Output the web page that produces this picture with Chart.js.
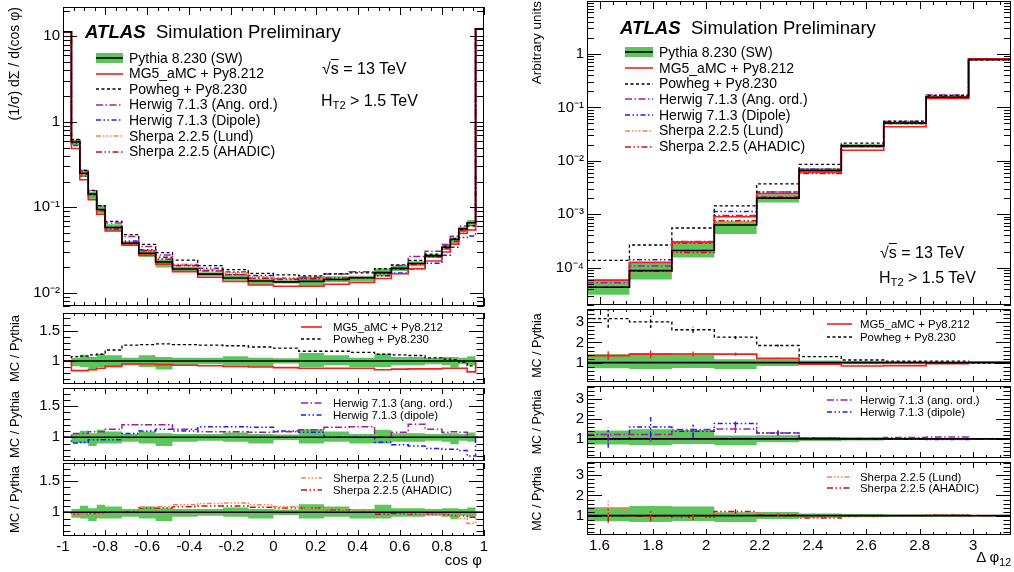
<!DOCTYPE html>
<html>
<head>
<meta charset="utf-8">
<script src="https://cdn.jsdelivr.net/npm/chart.js@4.4.1/dist/chart.umd.min.js"></script>
<style>
  html, body { margin: 0; padding: 0; background: #fff; }
  body { position: relative; width: 1014px; height: 572px; overflow: hidden;
         font-family: "Liberation Sans", Arial, Helvetica, sans-serif; color: #000; }
  canvas, .lbl, svg { position: absolute; }
  .lbl { white-space: nowrap; }
  .atlas { font-weight: bold; font-style: italic; }
</style>
</head>
<body>
<script>
// ---- cos(phi) : bin edges, Pythia 8.230 (SW) reference, MC / Pythia ratios
const cosEdges = [-1, -0.96, -0.92, -0.88, -0.84, -0.8, -0.72, -0.64, -0.56, -0.48, -0.36, -0.24, -0.12,
                  0, 0.12, 0.24, 0.36, 0.48, 0.56, 0.64, 0.72, 0.8, 0.84, 0.88, 0.92, 0.96, 1];
const cosPythia = [11.3, 0.58, 0.25, 0.143, 0.094, 0.058, 0.038, 0.029, 0.023, 0.019, 0.0165, 0.0149, 0.0137,
                   0.0134, 0.0136, 0.0143, 0.015, 0.0172, 0.0193, 0.022, 0.027, 0.034, 0.042, 0.056, 0.066, 12.2];
const cosPythiaUp = [0.01, 0.054, 0.103, 0.065, 0.12, 0.092, 0.054, 0.092, 0.065, 0.054, 0.054, 0.076, 0.054,
                     0.043, 0.13, 0.092, 0.054, 0.12, 0.065, 0.065, 0.054, 0.065, 0.065, 0.054, 0.076, 0.01];
const cosPythiaDn = [0.01, 0.087, 0.098, 0.141, 0.1, 0.098, 0.07, 0.098, 0.141, 0.07, 0.054, 0.07, 0.098,
                     0.043, 0.098, 0.07, 0.098, 0.098, 0.07, 0.07, 0.054, 0.07, 0.11, 0.054, 0.07, 0.01];
const cosMG5 = [1.0, 0.84, 0.84, 0.855, 0.88, 0.91, 0.95, 0.95, 0.94, 0.93, 0.92, 0.91, 0.9,
                0.89, 0.88, 0.88, 0.88, 0.855, 0.865, 0.87, 0.87, 0.88, 0.88, 0.88, 0.82, 1.0];
const cosPowheg = [1.0, 1.07, 1.08, 1.1, 1.11, 1.18, 1.26, 1.27, 1.28, 1.27, 1.26, 1.25, 1.23,
                   1.21, 1.16, 1.16, 1.14, 1.11, 1.1, 1.09, 1.05, 1.03, 1.02, 0.98, 0.92, 1.0];
const cosHerwigAng = [1.0, 1.06, 1.06, 1.09, 1.09, 1.13, 1.2, 1.2, 1.2, 1.13, 1.09, 1.09, 1.08,
                      1.09, 1.12, 1.16, 1.17, 1.0, 1.08, 1.21, 1.13, 1.08, 1.09, 1.08, 1.0, 1.0];
const cosHerwigDip = [1.0, 0.91, 0.92, 0.96, 0.96, 0.96, 1.06, 1.1, 1.13, 1.1, 1.17, 1.17, 1.16,
                      1.1, 1.08, 1.0, 1.0, 0.92, 0.88, 0.86, 0.82, 0.81, 0.81, 0.79, 0.7, 1.0];
const cosSherpaLund = [1.0, 0.97, 0.97, 0.98, 0.97, 1.0, 1.0, 1.08, 1.09, 1.12, 1.14, 1.15, 1.12,
                       1.09, 1.07, 1.05, 1.02, 1.0, 1.0, 0.98, 0.97, 0.95, 0.95, 0.9, 0.82, 1.0];
const cosSherpaAhadic = [1.0, 0.97, 0.97, 0.98, 0.98, 1.0, 1.01, 1.07, 1.07, 1.09, 1.1, 1.1, 1.08,
                         1.07, 1.07, 1.04, 1.0, 0.97, 0.98, 0.97, 0.97, 0.96, 0.95, 0.94, 0.92, 1.0];

// ---- delta phi_12
const dphiEdges = [1.553, 1.712, 1.871, 2.030, 2.189, 2.348, 2.506, 2.665, 2.824, 2.983, 3.142];
const dphiPythia = [4.3e-5, 8.8e-5, 2.1e-4, 6.3e-4, 2.0e-3, 6.6e-3, 0.019, 0.051, 0.155, 0.79];
const dphiPythiaUp = [0.42, 0.48, 0.45, 0.17, 0.18, 0.1, 0.08, 0.06, 0.05, 0.03];
const dphiPythiaDn = [0.28, 0.32, 0.26, 0.32, 0.17, 0.1, 0.08, 0.06, 0.05, 0.03];
const dphiMG5 = [1.35, 1.42, 1.43, 1.42, 1.22, 0.92, 0.83, 0.85, 0.95, 1.03];
const dphiPowheg = [3.18, 3.02, 2.63, 2.27, 1.85, 1.3, 1.13, 1.08, 1.08, 0.98];
const dphiHerwigAng = [1.22, 1.22, 1.47, 1.5, 1.3, 1.05, 1.02, 1.07, 1.1, 1.0];
const dphiHerwigDip = [1.0, 1.6, 1.38, 1.78, 1.3, 1.05, 1.0, 0.98, 0.97, 1.0];
const dphiSherpaLund = [1.37, 0.95, 0.92, 1.12, 1.03, 0.95, 0.97, 1.0, 1.03, 1.0];
const dphiSherpaAhadic = [1.0, 0.97, 0.92, 1.2, 1.05, 0.88, 0.97, 1.0, 1.03, 1.0];
const dphiErrMG5 = [0.22, 0.18, 0.12, 0.08, 0.04, 0, 0, 0, 0, 0];
const dphiErrPowheg = [0.45, 0.3, 0.15, 0.1, 0.05, 0, 0, 0, 0, 0];
const dphiErrHerwigAng = [0.35, 0.35, 0.3, 0.2, 0.15, 0, 0, 0, 0, 0];
const dphiErrHerwigDip = [0.45, 0.5, 0.35, 0.15, 0.1, 0, 0, 0, 0, 0];
const dphiErrSherpaLund = [0.4, 0.2, 0.15, 0.1, 0.05, 0, 0, 0, 0, 0];
const dphiErrSherpaAhadic = [0.35, 0.25, 0.15, 0.12, 0.05, 0, 0, 0, 0, 0];

// ---- ticks and labels
const cosTicks = [-1, -0.8, -0.6, -0.4, -0.2, 0, 0.2, 0.4, 0.6, 0.8, 1];
const cosTickLabels = ['-1', '-0.8', '-0.6', '-0.4', '-0.2', '0', '0.2', '0.4', '0.6', '0.8', '1'];
const dphiTicks = [1.6, 1.8, 2, 2.2, 2.4, 2.6, 2.8, 3];
const dphiTickLabels = ['1.6', '1.8', '2', '2.2', '2.4', '2.6', '2.8', '3'];
const cosMainTicks = [0.01, 0.1, 1, 10];
const cosMainTickLabels = ['10\u207B\u00B2', '10\u207B\u00B9', '1', '10'];
const dphiMainTicks = [1e-4, 1e-3, 1e-2, 0.1, 1];
const dphiMainTickLabels = ['10\u207B\u2074', '10\u207B\u00B3', '10\u207B\u00B2', '10\u207B\u00B9', '1'];
const cosRatioTicks = [1, 1.5];
const cosRatioTickLabels = ['1', '1.5'];
const dphiRatioTicks = [1, 2, 3];
const dphiRatioTickLabels = ['1', '2', '3'];

const mainLegend = ['Pythia 8.230 (SW)', 'MG5_aMC + Py8.212', 'Powheg + Py8.230', 'Herwig 7.1.3 (Ang. ord.)',
                    'Herwig 7.1.3 (Dipole)', 'Sherpa 2.2.5 (Lund)', 'Sherpa 2.2.5 (AHADIC)'];
const ratioLegend = ['MG5_aMC + Py8.212', 'Powheg + Py8.230', 'Herwig 7.1.3 (ang. ord.)',
                     'Herwig 7.1.3 (dipole)', 'Sherpa 2.2.5 (Lund)', 'Sherpa 2.2.5 (AHADIC)'];

const GREEN = '#5cc65c';
const STY = {
  pythia: {color: '#000000', dash: [], w: 1.6},
  mg5:    {color: '#ff1a1a', dash: [], w: 1.6},
  powheg: {color: '#000000', dash: [3, 2.5], w: 1.3},
  herAng: {color: '#a01fa0', dash: [7, 2.5, 1.5, 2.5], w: 1.5},
  herDip: {color: '#1a1aff', dash: [5, 2.5, 1.5, 2.5, 1.5, 2.5], w: 1.5},
  lund:   {color: '#ff8040', dash: [5, 2, 1.5, 2, 1.5, 2, 1.5, 2], w: 1.5},
  ahadic: {color: '#c81010', dash: [6, 2.5, 1.5, 2.5, 1.5, 2.5], w: 1.5}
};
const legendKeys = ['pythia', 'mg5', 'powheg', 'herAng', 'herDip', 'lund', 'ahadic'];

Chart.defaults.font.family = '"Liberation Sans", Arial, Helvetica, sans-serif';
Chart.defaults.color = '#000';

// one point per lower bin edge + closing point; drawn with horizontal-first steps
function hist(edges, vals) {
  const p = vals.map((v, i) => ({x: edges[i], y: v}));
  p.push({x: edges[edges.length - 1], y: vals[vals.length - 1]});
  return p;
}
function times(base, ratio) { return base.map((b, i) => b * ratio[i]); }

function histLine(edges, vals, key, order) {
  const s = STY[key];
  return {data: hist(edges, vals), borderColor: s.color, borderDash: s.dash, borderWidth: s.w,
          stepped: 'before', pointRadius: 0, fill: false, order: order};
}
function band(edges, lo, hi) {
  return [
    {data: hist(edges, lo), borderWidth: 0, borderColor: 'rgba(0,0,0,0)', pointRadius: 0,
     stepped: 'before', fill: false, order: 20},
    {data: hist(edges, hi), borderWidth: 0, borderColor: 'rgba(0,0,0,0)', backgroundColor: GREEN,
     pointRadius: 0, stepped: 'before', fill: '-1', order: 20}
  ];
}

function steps(min, max, step) {
  const out = [];
  for (let k = Math.ceil(min / step - 1e-9); k * step <= max + 1e-9; k++) out.push(+(k * step).toFixed(6));
  return out;
}
function onGrid(v, step) { const r = v / step; return Math.abs(r - Math.round(r)) < 1e-6; }
function logSteps(min, max) {
  const out = [];
  for (let e = Math.floor(Math.log10(min)); e <= Math.ceil(Math.log10(max)); e++) {
    for (let m = 1; m <= 9; m++) {
      const v = m * Math.pow(10, e);
      if (v >= min && v <= max) out.push({v: v, major: m === 1});
    }
  }
  return out;
}
function noPad(s) { s.paddingTop = 0; s.paddingBottom = 0; s.paddingLeft = 0; s.paddingRight = 0; }

// ROOT style frame with inward ticks on all four sides, plus vertical error bars
const rootAxes = {
  id: 'rootAxes',
  afterDatasetsDraw(chart) {
    const cfg = chart.canvas.rootCfg;
    const {ctx, chartArea: a} = chart;
    const x = chart.scales.x, y = chart.scales.y;

    ctx.save();
    ctx.beginPath(); ctx.rect(a.left, a.top, a.width, a.height); ctx.clip();
    (cfg.errs || []).forEach(eb => {
      const s = STY[eb.key];
      ctx.strokeStyle = s.color; ctx.lineWidth = 1.4; ctx.setLineDash(s.dash);
      ctx.beginPath();
      eb.vals.forEach((v, i) => {
        if (!eb.errs[i]) return;
        const px = x.getPixelForValue((eb.edges[i] + eb.edges[i + 1]) / 2);
        ctx.moveTo(px, y.getPixelForValue(v - eb.errs[i]));
        ctx.lineTo(px, y.getPixelForValue(v + eb.errs[i]));
      });
      ctx.stroke();
    });
    ctx.restore();

    ctx.save();
    ctx.strokeStyle = '#000'; ctx.lineWidth = 1; ctx.setLineDash([]);
    ctx.beginPath();
    for (const t of steps(x.min, x.max, cfg.xMinor)) {
      const px = Math.round(x.getPixelForValue(t)) + 0.5;
      const len = onGrid(t, cfg.xMajor) ? cfg.xLen : cfg.xLen / 2;
      ctx.moveTo(px, a.bottom); ctx.lineTo(px, a.bottom - len);
      ctx.moveTo(px, a.top); ctx.lineTo(px, a.top + len);
    }
    const yt = cfg.yLog ? logSteps(y.min, y.max)
      : steps(y.min, y.max, cfg.yMinor).map(v => ({v: v, major: onGrid(v, cfg.yMajor)}));
    for (const t of yt) {
      const py = Math.round(y.getPixelForValue(t.v)) + 0.5;
      const len = t.major ? cfg.yLen : cfg.yLen / 2;
      ctx.moveTo(a.left, py); ctx.lineTo(a.left + len, py);
      ctx.moveTo(a.right, py); ctx.lineTo(a.right - len, py);
    }
    ctx.stroke();
    ctx.strokeRect(Math.round(a.left) + 0.5, Math.round(a.top) + 0.5,
                   Math.round(a.width) - 1, Math.round(a.height) - 1);
    ctx.restore();
  }
};

function makePanel(p) {
  const c = document.createElement('canvas');
  c.width = p.cw; c.height = p.ch;
  c.style.left = p.cx + 'px'; c.style.top = p.cy + 'px';
  c.style.width = p.cw + 'px'; c.style.height = p.ch + 'px';
  c.rootCfg = p.frame;
  document.body.appendChild(c);
  const axW = p.area[0] - p.cx;
  const padTop = p.area[1] - p.cy;
  const padRight = p.cx + p.cw - p.area[2];
  const axH = p.cy + p.ch - p.area[3];
  return new Chart(c, {
    type: 'line',
    data: {datasets: p.datasets},
    options: {
      responsive: false, animation: false, devicePixelRatio: 1,
      layout: {padding: {top: padTop, right: padRight, left: 0, bottom: p.xLabels ? 0 : axH}},
      plugins: {legend: {display: false}, tooltip: {enabled: false}},
      scales: {
        x: {
          type: 'linear', min: p.xMin, max: p.xMax, bounds: 'data', display: !!p.xLabels,
          grid: {display: false, drawTicks: false}, border: {display: false},
          ticks: {font: {size: 15}, color: '#000', padding: 2, maxRotation: 0, autoSkip: false,
                  callback: (v, i) => p.xLabels ? p.xLabels[i] : ''},
          afterBuildTicks: s => { s.ticks = p.xTicks.map(v => ({value: v})); },
          afterFit: s => { s.height = p.xLabels ? axH : 0; noPad(s); }
        },
        y: {
          type: p.yLog ? 'logarithmic' : 'linear', min: p.yMin, max: p.yMax, bounds: 'data',
          grid: {display: false, drawTicks: false}, border: {display: false},
          ticks: {font: {size: 15}, color: '#000', padding: 3, autoSkip: false,
                  callback: (v, i) => p.yLabels[i]},
          afterBuildTicks: s => { s.ticks = p.yTicks.map(v => ({value: v})); },
          afterFit: s => { s.width = axW; noPad(s); },
          title: {display: true, text: p.yTitle, align: p.yTitleAlign, color: '#000',
                  font: {size: p.yTitleSize}, padding: {top: p.yTitlePad, bottom: 0}}
        }
      }
    },
    plugins: [rootAxes]
  });
}

// ---------------- left: cos(phi)
const cosOnes = cosEdges.slice(1).map(() => 1);
const cosFrameMain = {xMajor: 0.2, xMinor: 0.05, xLen: 8, yLog: true, yLen: 14};
const cosFrameRatio = {xMajor: 0.2, xMinor: 0.05, xLen: 6, yMajor: 0.5, yMinor: 0.1, yLen: 15};
const cosRatioBand = band(cosEdges, cosPythiaDn.map(d => 1 - d), cosPythiaUp.map(u => 1 + u));
const leftCommon = {cx: 0, cw: 500, xMin: -1, xMax: 1, xTicks: cosTicks};

makePanel(Object.assign({}, leftCommon, {
  cy: 0, ch: 308, area: [63, 7, 484, 306], frame: cosFrameMain,
  yLog: true, yMin: 0.007, yMax: 22, yTicks: cosMainTicks, yLabels: cosMainTickLabels,
  yTitle: '(1/\u03C3) d\u03A3 / d(cos \u03C6)', yTitleAlign: 'end', yTitleSize: 14, yTitlePad: 6.6,
  datasets: [
    ...band(cosEdges, times(cosPythia, cosPythiaDn.map(d => 1 - d)), times(cosPythia, cosPythiaUp.map(u => 1 + u))),
    histLine(cosEdges, times(cosPythia, cosHerwigDip), 'herDip', 7),
    histLine(cosEdges, times(cosPythia, cosHerwigAng), 'herAng', 6),
    histLine(cosEdges, times(cosPythia, cosSherpaLund), 'lund', 5),
    histLine(cosEdges, times(cosPythia, cosSherpaAhadic), 'ahadic', 4),
    histLine(cosEdges, times(cosPythia, cosPowheg), 'powheg', 3),
    histLine(cosEdges, times(cosPythia, cosMG5), 'mg5', 2),
    histLine(cosEdges, cosPythia, 'pythia', 1)
  ]
}));

const cosRatioPanels = [
  {cy: 309, ch: 77, area: [63, 313, 484, 384], a: ['mg5', cosMG5], b: ['powheg', cosPowheg]},
  {cy: 386, ch: 76, area: [63, 388, 484, 461], a: ['herAng', cosHerwigAng], b: ['herDip', cosHerwigDip]},
  {cy: 462, ch: 110, area: [63, 463, 484, 536], a: ['lund', cosSherpaLund], b: ['ahadic', cosSherpaAhadic], last: true}
];
cosRatioPanels.forEach(r => {
  makePanel(Object.assign({}, leftCommon, {
    cy: r.cy, ch: r.ch, area: r.area, frame: cosFrameRatio, xLabels: r.last ? cosTickLabels : null,
    yLog: false, yMin: 0.62, yMax: 1.79, yTicks: cosRatioTicks, yLabels: cosRatioTickLabels,
    yTitle: 'MC / Pythia', yTitleAlign: 'center', yTitleSize: 13, yTitlePad: 7.2,
    datasets: [
      ...cosRatioBand,
      histLine(cosEdges, r.b[1], r.b[0], 3),
      histLine(cosEdges, r.a[1], r.a[0], 2),
      histLine(cosEdges, cosOnes, 'pythia', 1)
    ]
  }));
});

// ---------------- right: delta phi_12
const dphiOnes = dphiEdges.slice(1).map(() => 1);
const dphiFrameMain = {xMajor: 0.2, xMinor: 0.05, xLen: 8, yLog: true, yLen: 14};
const dphiRatioBand = band(dphiEdges, dphiPythiaDn.map(d => 1 - d), dphiPythiaUp.map(u => 1 + u));
const rightCommon = {cx: 515, cw: 499, xMin: 1.553, xMax: 3.142, xTicks: dphiTicks};

makePanel(Object.assign({}, rightCommon, {
  cy: 0, ch: 307, area: [587, 1, 1011, 305], frame: dphiFrameMain,
  yLog: true, yMin: 2e-5, yMax: 9.8, yTicks: dphiMainTicks, yLabels: dphiMainTickLabels,
  yTitle: 'Arbitrary units', yTitleAlign: 'end', yTitleSize: 13.5, yTitlePad: 13.9,
  datasets: [
    ...band(dphiEdges, times(dphiPythia, dphiPythiaDn.map(d => 1 - d)), times(dphiPythia, dphiPythiaUp.map(u => 1 + u))),
    histLine(dphiEdges, times(dphiPythia, dphiHerwigDip), 'herDip', 7),
    histLine(dphiEdges, times(dphiPythia, dphiHerwigAng), 'herAng', 6),
    histLine(dphiEdges, times(dphiPythia, dphiSherpaLund), 'lund', 5),
    histLine(dphiEdges, times(dphiPythia, dphiSherpaAhadic), 'ahadic', 4),
    histLine(dphiEdges, times(dphiPythia, dphiPowheg), 'powheg', 3),
    histLine(dphiEdges, times(dphiPythia, dphiMG5), 'mg5', 2),
    histLine(dphiEdges, dphiPythia, 'pythia', 1)
  ]
}));

const dphiRatioPanels = [
  {cy: 307, ch: 77, area: [587, 309, 1011, 382],
   a: ['mg5', dphiMG5, dphiErrMG5], b: ['powheg', dphiPowheg, dphiErrPowheg]},
  {cy: 384, ch: 76, area: [587, 386, 1011, 458],
   a: ['herAng', dphiHerwigAng, dphiErrHerwigAng], b: ['herDip', dphiHerwigDip, dphiErrHerwigDip]},
  {cy: 460, ch: 112, area: [587, 462, 1011, 535],
   a: ['lund', dphiSherpaLund, dphiErrSherpaLund], b: ['ahadic', dphiSherpaAhadic, dphiErrSherpaAhadic], last: true}
];
dphiRatioPanels.forEach(r => {
  const frame = {xMajor: 0.2, xMinor: 0.05, xLen: 6, yMajor: 1, yMinor: 0.2, yLen: 15,
    errs: [{key: r.a[0], edges: dphiEdges, vals: r.a[1], errs: r.a[2]},
           {key: r.b[0], edges: dphiEdges, vals: r.b[1], errs: r.b[2]}]};
  makePanel(Object.assign({}, rightCommon, {
    cy: r.cy, ch: r.ch, area: r.area, frame: frame, xLabels: r.last ? dphiTickLabels : null,
    yLog: false, yMin: 0.04, yMax: 3.66, yTicks: dphiRatioTicks, yLabels: dphiRatioTickLabels,
    yTitle: 'MC / Pythia', yTitleAlign: 'center', yTitleSize: 12.5, yTitlePad: 15.5,
    datasets: [
      ...dphiRatioBand,
      histLine(dphiEdges, r.b[1], r.b[0], 3),
      histLine(dphiEdges, r.a[1], r.a[0], 2),
      histLine(dphiEdges, dphiOnes, 'pythia', 1)
    ]
  }));
});

// ---------------- text, legends
function addLabel(html, x, yc, size, right) {
  const d = document.createElement('div');
  d.className = 'lbl';
  d.innerHTML = html;
  const lh = Math.round(size * 1.2);
  d.style.fontSize = size + 'px';
  d.style.lineHeight = lh + 'px';
  d.style.top = (yc - lh / 2) + 'px';
  if (right) d.style.right = (1014 - x) + 'px'; else d.style.left = x + 'px';
  document.body.appendChild(d);
}
function addSample(key, x, yc, w, h) {
  const ns = 'http://www.w3.org/2000/svg';
  const s = STY[key];
  const svg = document.createElementNS(ns, 'svg');
  svg.setAttribute('width', w); svg.setAttribute('height', h);
  svg.style.left = x + 'px'; svg.style.top = (yc - h / 2) + 'px';
  if (key === 'pythia') {
    const r = document.createElementNS(ns, 'rect');
    r.setAttribute('x', 0); r.setAttribute('y', 0); r.setAttribute('width', w); r.setAttribute('height', h);
    r.setAttribute('fill', GREEN);
    svg.appendChild(r);
  }
  const l = document.createElementNS(ns, 'line');
  l.setAttribute('x1', 0); l.setAttribute('x2', w); l.setAttribute('y1', h / 2); l.setAttribute('y2', h / 2);
  l.setAttribute('stroke', s.color); l.setAttribute('stroke-width', s.w);
  if (s.dash.length) l.setAttribute('stroke-dasharray', s.dash.join(' '));
  svg.appendChild(l);
  document.body.appendChild(svg);
}

const ATLAS = '<span class="atlas">ATLAS</span>&nbsp; Simulation Preliminary';
const SQRTS = '\u221A<span style="text-decoration:overline">s</span> = 13 TeV';
const HT2 = 'H<sub style="font-size:70%;vertical-align:-0.3em">T2</sub> &gt; 1.5 TeV';

addLabel(ATLAS, 85, 32, 18.6);
addLabel(SQRTS, 322, 68, 16);
addLabel(HT2, 321, 100, 16);
legendKeys.forEach((k, i) => {
  const yc = 58 + i * 15.6;
  addSample(k, 96, yc, 27, k === 'pythia' ? 10 : 4);
  addLabel(mainLegend[i], 129, yc, 14);
});

addLabel(ATLAS, 620, 28, 18.6);
addLabel(SQRTS, 880, 252, 16);
addLabel(HT2, 879, 277, 16);
legendKeys.forEach((k, i) => {
  const yc = 52.3 + i * 15.7;
  addSample(k, 625, yc, 28, k === 'pythia' ? 10 : 4);
  addLabel(mainLegend[i], 659, yc, 14);
});

const cosLegRows = [326.7, 339.3, 403.3, 415, 478.3, 490];
const dphiLegRows = [324, 336.7, 400, 412.3, 476.7, 488.3];
legendKeys.slice(1).forEach((k, i) => {
  addSample(k, 301, cosLegRows[i], 21, 4);
  addLabel(ratioLegend[i], 333, cosLegRows[i], 11.4);
  addSample(k, 827, dphiLegRows[i], 25, 4);
  addLabel(ratioLegend[i], 860, dphiLegRows[i], 11.4);
});

addLabel('cos \u03C6', 482, 560, 15, true);
addLabel('\u0394 \u03C6<sub style="font-size:70%;vertical-align:-0.35em">12</sub>', 1011, 557, 15, true);
</script>
</body>
</html>
